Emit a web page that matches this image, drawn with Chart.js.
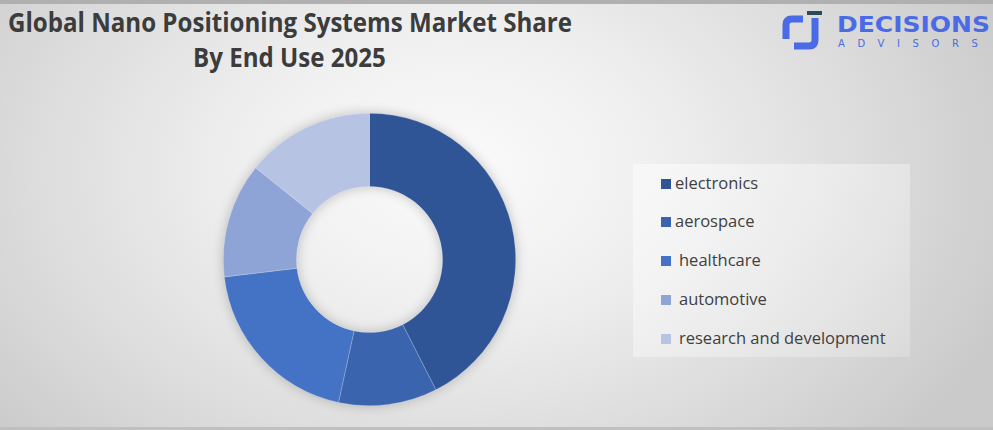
<!DOCTYPE html>
<html>
<head>
<meta charset="utf-8">
<script src="https://cdn.jsdelivr.net/npm/chart.js@4.4.1/dist/chart.umd.min.js"></script>
<style>
  html, body { margin: 0; padding: 0; }
  body {
    width: 993px; height: 430px; overflow: hidden; position: relative;
    background: radial-gradient(ellipse 600px 410px at 450px 170px, #fbfbfb 0%, #efefef 35%, #dcdcdc 70%, #cacaca 100%);
    font-family: "Open Sans", "DejaVu Sans", sans-serif;
  }
  #topbar { position: absolute; left: 0; top: 0; width: 993px; height: 4px; background: #b0b0b0; }
  #botbar { position: absolute; left: 0; top: 427px; width: 993px; height: 3px; background: #c0c0c0; }
  .title { position: absolute; font-weight: 700; color: #3c3c3c; white-space: nowrap; transform-origin: 0 0; font-size: 26px; line-height: 1; }
  #chartWrap { position: absolute; left: 223px; top: 113px; width: 293px; height: 293px; filter: drop-shadow(0 0 6px rgba(0,0,0,0.22)); }
  #legend { position: absolute; left: 633px; top: 164px; width: 277px; height: 193px;
    background: linear-gradient(135deg, rgba(255,255,255,0.5), rgba(255,255,255,0.2)); }
  .li { position: absolute; left: 28px; height: 20px; font-size: 16.5px; color: #404040; white-space: pre; }
  .li .sw { position: absolute; left: 0; top: 5px; width: 10px; height: 10px; }
  .li .tx { position: absolute; left: 14px; top: -2px; line-height: 22px; }
  #logoText { position: absolute; left: 837px; top: 14px; font-family: "DejaVu Sans", sans-serif; font-weight: 700; font-size: 22px; color: #4b6be6; white-space: nowrap; transform-origin: 0 0; line-height: 1; }
  #logoSub { position: absolute; left: 838px; top: 39px; font-family: "DejaVu Sans", sans-serif; font-size: 10px; color: #4b6be6; white-space: nowrap; letter-spacing: 12.6px; line-height: 1; }
</style>
</head>
<body>
<div id="topbar"></div>
<div id="botbar"></div>
<div class="title" id="t1">Global Nano Positioning Systems Market Share</div>
<div class="title" id="t2">By End Use 2025</div>

<svg style="position:absolute;left:0;top:0" width="993" height="60">
  <path d="M803 19 L792 19 Q786 19 786 25 L786 39" stroke="#4b6be6" stroke-width="7" fill="none"/>
  <path d="M815 18 L815 40 Q815 46 809 46 L794 46" stroke="#4b6be6" stroke-width="7" fill="none"/>
  <rect x="807" y="11" width="15" height="4" fill="#2e4a58"/>
</svg>
<div id="logoText">DECISIONS</div>
<div id="logoSub">ADVISORS</div>

<div id="chartWrap"><canvas id="c" width="293" height="293"></canvas></div>
<div id="legend"></div>

<script>
const categories = ["electronics", "aerospace", "healthcare", "automotive", "research and development"];
const shares = [42.5, 10.9, 19.7, 12.7, 14.2];
const colors = ["#2f5597", "#3a64ad", "#4472c4", "#8ea4d6", "#b7c3e3"];
const legendIndent = [0, 0, 4, 4, 4];

function fitWidth(el, w) {
  const r = el.getBoundingClientRect();
  el.style.transform = "scaleX(" + (w / r.width) + ")";
}
const t1 = document.getElementById("t1");
t1.style.left = "8px"; t1.style.top = "9px";
const sc = 564 / t1.getBoundingClientRect().width;
t1.style.transform = "scaleX(" + sc + ")";
const t2 = document.getElementById("t2");
t2.style.top = "44px";
const w2 = t2.getBoundingClientRect().width;
t2.style.left = (289 - w2 * sc / 2) + "px";
t2.style.transform = "scaleX(" + sc + ")";
fitWidth(document.getElementById("logoText"), 153);

const lg = document.getElementById("legend");
categories.forEach((c, i) => {
  const d = document.createElement("div");
  d.className = "li";
  d.style.top = (9.5 + i * 38.9) + "px";
  d.innerHTML = '<span class="sw" style="background:' + colors[i] + '"></span><span class="tx" style="left:' + (14 + legendIndent[i]) + 'px">' + c + '</span>';
  lg.appendChild(d);
});

new Chart(document.getElementById("c"), {
  type: "doughnut",
  data: {
    labels: categories,
    datasets: [{
      data: shares,
      backgroundColor: colors,
      borderColor: "rgba(255,255,255,0.35)",
      borderWidth: 0.6
    }]
  },
  options: {
    responsive: false,
    animation: false,
    cutout: "50%",
    layout: { padding: 0 },
    plugins: { legend: { display: false }, tooltip: { enabled: false }, title: { display: false } }
  }
});
</script>
</body>
</html>
